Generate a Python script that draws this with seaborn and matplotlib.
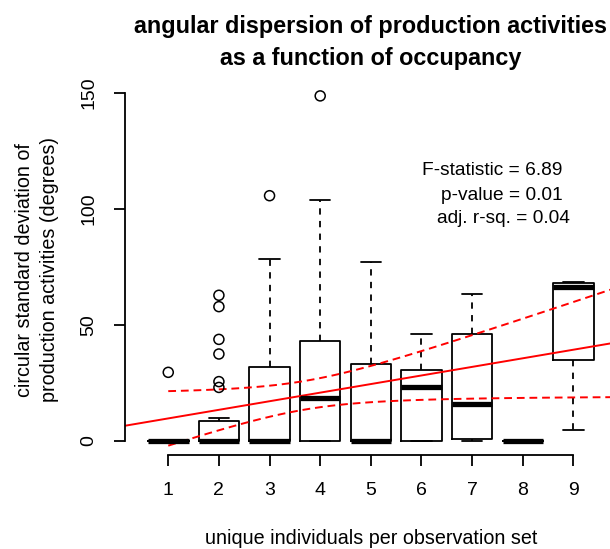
import numpy as np
import pandas as pd
import matplotlib
matplotlib.use("Agg")
import matplotlib.pyplot as plt
import seaborn as sns

# five-number summaries, one entry per group
groups = [1, 2, 3, 4, 5, 6, 7, 8, 9]
whisk_lo = [0, 0, 0, 0, 0, 0, 0, 0, 4.7]
q1 = [0, 0, 0, 0, 0, 0, 0.8, 0, 34.7]
med = [0, 0, 0, 18.3, 0, 23.0, 15.7, 0, 66.4]
q3 = [0, 8.7, 32.0, 43.0, 33.1, 30.5, 46.0, 0, 68.1]
whisk_hi = [0, 10.0, 78.2, 103.6, 76.9, 46.0, 63.1, 0, 68.5]

# outliers
out_group = [1, 2, 2, 2, 2, 2, 2, 3, 4]
out_value = [29.5, 62.7, 57.8, 43.7, 37.4, 25.5, 23.0, 105.6, 148.6]

# linear fit and its confidence band
fit_intercept = 5.95
fit_slope = 3.70
band_center = 3.7
band_a = 38.1
band_b = 13.7

stats_lines = ["F-statistic = 6.89", "p-value = 0.01", "adj. r-sq. = 0.04"]

sns.set_style("white")
plt.rcParams['font.family'] = ['Liberation Sans', 'DejaVu Sans']
plt.rcParams['text.color'] = 'black'
plt.rcParams['xtick.color'] = 'black'
plt.rcParams['ytick.color'] = 'black'
plt.rcParams['axes.labelcolor'] = 'black'

W, H = 610, 549
fig = plt.figure(figsize=(W / 100, H / 100), dpi=100)

# R-like plot region
x_lo, x_hi = 0.5 - 0.36, len(groups) + 0.5 + 0.36
y_max = max(out_value)
y_lo, y_hi = -0.04 * y_max, y_max * 1.04
px_left, px_right = 124.7, 617.0
px_top, px_bot = 82.1, 454.6
ax = fig.add_axes([px_left / W, 1 - px_bot / H,
                   (px_right - px_left) / W, (px_bot - px_top) / H])

bstats = []
for i in range(len(groups)):
    bstats.append(dict(whislo=whisk_lo[i], q1=q1[i], med=med[i],
                       q3=q3[i], whishi=whisk_hi[i], fliers=[]))

lw = 1.3
ax.bxp(bstats, positions=groups, widths=0.8, capwidths=0.4, showfliers=False,
       boxprops=dict(color='black', lw=lw),
       whiskerprops=dict(color='black', lw=lw, linestyle=(0, (3.5, 3.5))),
       capprops=dict(color='black', lw=lw),
       medianprops=dict(color='black', lw=3.8, solid_capstyle='butt'))

df_out = pd.DataFrame({'g': out_group, 'v': out_value})
sns.scatterplot(data=df_out, x='g', y='v', ax=ax, marker='o', s=52,
                facecolor='none', edgecolor='black', linewidth=1.1, zorder=3)

# fitted line across the whole region, bands from x=1
xs_full = np.linspace(x_lo - 1, x_hi + 1, 50)
fit_full = fit_intercept + fit_slope * xs_full
sns.lineplot(x=xs_full, y=fit_full, ax=ax, color='red', lw=1.4)

xs_band = np.linspace(1, x_hi + 1, 100)
fit_band = fit_intercept + fit_slope * xs_band
half = np.sqrt(band_a + band_b * (xs_band - band_center) ** 2)
for yy in (fit_band + half, fit_band - half):
    sns.lineplot(x=xs_band, y=yy, ax=ax, color='red', lw=1.4,
                 linestyle=(0, (4, 2.5)))

ax.set_xlim(x_lo, x_hi)
ax.set_ylim(y_lo, y_hi)
ax.set_xticks(groups)
ax.set_xticklabels([str(g) for g in groups])
ax.set_yticks([0, 50, 100, 150])
ax.set_xlabel('')
ax.set_ylabel('')

for s in ['top', 'right']:
    ax.spines[s].set_visible(False)
for s in ['left', 'bottom']:
    ax.spines[s].set_color('black')
    ax.spines[s].set_linewidth(lw)
ax.spines['left'].set_bounds(0, 150)
ax.spines['bottom'].set_bounds(1, 9)
ax.tick_params(axis='both', length=7.8, width=lw, color='black',
               labelcolor='black', labelsize=14, pad=12, direction='out',
               left=True, bottom=True)
for lab in ax.get_yticklabels():
    lab.set_rotation(90)
    lab.set_va('center')

# title and axis labels
fig.text(371 / W, 1 - 26.6 / H, 'angular dispersion of production activities',
         ha='center', va='center', fontsize=16.8, fontweight='bold')
fig.text(371 / W, 1 - 58.6 / H, 'as a function of occupancy',
         ha='center', va='center', fontsize=16.8, fontweight='bold')
fig.text(371 / W, 1 - 538 / H, 'unique individuals per observation set',
         ha='center', va='center', fontsize=14.2)
fig.text(25 / W, 1 - 270 / H, 'circular standard deviation of',
         ha='center', va='center', rotation=90, fontsize=14.2)
fig.text(50 / W, 1 - 270 / H, 'production activities (degrees)',
         ha='center', va='center', rotation=90, fontsize=14.2)

stat_x = [492, 502, 503]
stat_y = [170.7, 195, 218]
for t, sx, sy in zip(stats_lines, stat_x, stat_y):
    fig.text(sx / W, 1 - sy / H, t, ha='center', va='center', fontsize=13.8)

fig.savefig('out.png', dpi=100)
